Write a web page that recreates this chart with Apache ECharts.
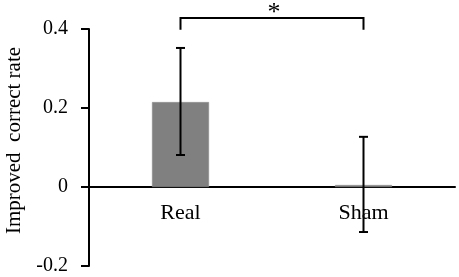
<!DOCTYPE html>
<html><head><meta charset="utf-8">
<script src="https://cdn.jsdelivr.net/npm/echarts@6/dist/echarts.min.js"></script>
<style>html,body{margin:0;padding:0;background:#fff}#c{width:459px;height:277px}</style>
</head><body><div id="c"></div>
<script>
var categories = ['Real', 'Sham'];
var means = [0.215, 0.005];
var errLow = [0.081, -0.114];
var errHigh = [0.352, 0.127];
var bracketY = 0.428;
var bracketDrop = 0.03;
var sigLabel = '*';
var yTicks = {min: -0.2, max: 0.4, interval: 0.2};

var chart = echarts.init(document.getElementById('c'));
var font = '"Liberation Serif", "Times New Roman", serif';
chart.setOption({
  animation: false,
  grid: {left: 89, right: 4, top: 29, bottom: 11, containLabel: false, outerBoundsMode: 'none'},
  xAxis: {
    type: 'category', data: categories,
    offset: -79,
    axisLine: {onZero: false, lineStyle: {color: '#000', width: 2}},
    axisTick: {show: false},
    axisLabel: {color: '#000', fontFamily: font, fontSize: 22, margin: 15}
  },
  yAxis: {
    type: 'value', min: yTicks.min, max: yTicks.max, interval: yTicks.interval,
    name: 'Improved  correct rate', nameLocation: 'middle', nameGap: 64,
    nameTextStyle: {color: '#000', fontFamily: font, fontSize: 21, padding: [0, 0, 0, 14]},
    axisLine: {show: true, lineStyle: {color: '#000', width: 2}},
    axisTick: {show: true, length: 8, lineStyle: {color: '#000', width: 2}},
    axisLabel: {color: '#000', fontFamily: font, fontSize: 20, margin: 21},
    splitLine: {show: false}
  },
  series: [
    {
      type: 'bar', data: means, barWidth: 57,
      itemStyle: {color: '#808080', borderColor: '#8c8c8c', borderWidth: 0.5}
    },
    {
      type: 'custom',
      data: categories.map(function (c, i) { return [i, errLow[i], errHigh[i]]; }),
      renderItem: function (params, api) {
        var lo = api.coord([api.value(0), api.value(1)]);
        var hi = api.coord([api.value(0), api.value(2)]);
        var w = 4.5;
        var st = {stroke: '#000', lineWidth: 2};
        return {type: 'group', children: [
          {type: 'line', shape: {x1: hi[0], y1: hi[1], x2: lo[0], y2: lo[1]}, style: st},
          {type: 'line', shape: {x1: hi[0] - w, y1: hi[1], x2: hi[0] + w, y2: hi[1]}, style: st},
          {type: 'line', shape: {x1: lo[0] - w, y1: lo[1], x2: lo[0] + w, y2: lo[1]}, style: st}
        ]};
      },
      z: 5
    },
    {
      type: 'custom',
      data: [[0, 1, bracketY]],
      clip: false,
      renderItem: function (params, api) {
        var a = api.coord([api.value(0), api.value(2)]);
        var b = api.coord([api.value(1), api.value(2)]);
        var d = api.coord([api.value(0), api.value(2) - bracketDrop]);
        var st = {stroke: '#000', lineWidth: 2, fill: null};
        return {type: 'group', children: [
          {type: 'polyline', shape: {points: [[a[0], d[1]], [a[0], a[1]], [b[0], b[1]], [b[0], d[1]]]}, style: st},
          {type: 'text', x: (a[0] + b[0]) / 2 + 2, y: a[1] + 8,
           style: {text: sigLabel, fill: '#000', font: '26px ' + font, textAlign: 'center', textVerticalAlign: 'bottom'}}
        ]};
      },
      z: 5
    }
  ]
});
</script></body></html>
